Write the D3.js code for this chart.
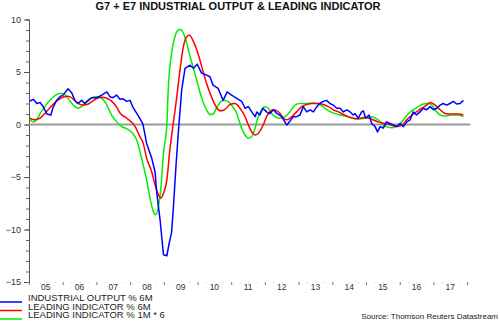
<!DOCTYPE html>
<html>
<head>
<meta charset="utf-8">
<script src="https://cdn.jsdelivr.net/npm/d3@7"></script>
<style>
  body { margin: 0; background: #fff; }
  svg { display: block; font-family: "Liberation Sans", Arial, sans-serif; }
</style>
</head>
<body>
<div id="chart"></div>
<script>
/**
 * G7 + E7 industrial output & leading indicator
 */
const width = 500;
const height = 321;

// x values are decimal years
const outputDates = [2005.03, 2005.13, 2005.23, 2005.33, 2005.42, 2005.53, 2005.65, 2005.71, 2005.82, 2005.92,
  2006.01, 2006.16, 2006.27, 2006.36, 2006.45, 2006.56, 2006.66, 2006.76, 2006.86, 2007.01,
  2007.16, 2007.31, 2007.40, 2007.49, 2007.60, 2007.70, 2007.79, 2007.90, 2008.00, 2008.09,
  2008.23, 2008.38, 2008.49, 2008.64, 2008.74, 2008.79, 2008.89, 2008.99, 2009.09, 2009.16,
  2009.23, 2009.28, 2009.36, 2009.43, 2009.53, 2009.63, 2009.78, 2009.88, 2009.99, 2010.12,
  2010.27, 2010.37, 2010.46, 2010.61, 2010.76, 2010.88, 2011.01, 2011.08, 2011.21, 2011.31,
  2011.41, 2011.51, 2011.61, 2011.71, 2011.76, 2011.85, 2011.94, 2012.05, 2012.15, 2012.25,
  2012.35, 2012.50, 2012.65, 2012.74, 2012.84, 2012.94, 2013.04, 2013.14, 2013.24, 2013.34,
  2013.44, 2013.54, 2013.63, 2013.73, 2013.83, 2013.93, 2014.03, 2014.13, 2014.23, 2014.33,
  2014.43, 2014.53, 2014.62, 2014.67, 2014.77, 2014.87, 2014.92, 2014.99, 2015.09, 2015.17,
  2015.27, 2015.34, 2015.42, 2015.51, 2015.61, 2015.71, 2015.81, 2015.91, 2016.01, 2016.11,
  2016.21, 2016.31, 2016.40, 2016.50, 2016.60, 2016.70, 2016.80, 2016.90, 2017.00, 2017.10,
  2017.20, 2017.29, 2017.39, 2017.49, 2017.59, 2017.69, 2017.79, 2017.89];
const outputValues = [2.24, 2.4, 2.0, 2.1, 1.7, 1.0, 0.9, 1.6, 2.3, 2.65,
  2.8, 3.4, 3.0, 2.3, 2.0, 2.3, 2.0, 2.3, 2.55, 2.55,
  2.8, 3.1, 2.65, 2.55, 2.8, 2.4, 2.45, 2.2, 2.3, 1.6,
  0.9, 0.05, -1.8, -3.2, -4.5, -6.5, -9.1, -12.4, -12.5, -11.3,
  -10.3, -8.1, -4.0, -0.8, 3.3, 5.35, 5.65, 5.35, 5.75, 4.9,
  4.7, 4.55, 3.75, 3.45, 2.3, 3.1, 2.8, 2.65, 2.4, 2.2,
  1.55, 1.7, 1.2, 0.75, 1.2, 0.9, 1.55, 1.2, 1.05, 1.4,
  1.05, 0.75, -0.05, 0.3, 0.75, 0.75, 0.9, 1.7, 1.2, 1.4,
  1.2, 1.7, 2.0, 2.2, 2.3, 2.0, 1.85, 1.55, 1.55, 1.2,
  1.4, 1.2, 0.9, 1.05, 0.6, 1.2, 1.3, 0.6, 0.9, 0.1,
  -0.2, -0.7, -0.2, -0.35, 0.25, 0.1, -0.05, -0.2, 0.1, -0.2,
  0.25, 0.45, 1.2, 0.9, 1.2, 1.55, 1.4, 1.7, 1.4, 1.55,
  1.85, 2.0, 1.85, 2.0, 2.2, 1.95, 2.0, 2.3];

const leading6Dates = [2005.03, 2005.18, 2005.33, 2005.47, 2005.62, 2005.77, 2005.92, 2006.04, 2006.16, 2006.28,
  2006.42, 2006.57, 2006.72, 2006.87, 2007.02, 2007.17, 2007.31, 2007.46, 2007.61, 2007.70,
  2007.90, 2008.15, 2008.29, 2008.39, 2008.49, 2008.64, 2008.74, 2008.84, 2008.91, 2008.99,
  2009.09, 2009.18, 2009.28, 2009.38, 2009.48, 2009.58, 2009.68, 2009.76, 2009.88, 2009.98,
  2010.07, 2010.17, 2010.27, 2010.37, 2010.47, 2010.57, 2010.67, 2010.77, 2010.87, 2010.96,
  2011.11, 2011.26, 2011.41, 2011.51, 2011.61, 2011.71, 2011.80, 2011.95, 2012.05, 2012.15,
  2012.25, 2012.35, 2012.45, 2012.55, 2012.65, 2012.80, 2012.94, 2013.09, 2013.24, 2013.39,
  2013.58, 2013.73, 2013.88, 2014.03, 2014.18, 2014.33, 2014.47, 2014.62, 2014.77, 2014.97,
  2015.17, 2015.36, 2015.56, 2015.76, 2015.91, 2016.06, 2016.21, 2016.36, 2016.50, 2016.65,
  2016.80, 2016.90, 2017.05, 2017.20, 2017.34, 2017.54, 2017.74, 2017.89];
const leading6Values = [0.6, 0.45, 0.6, 1.05, 1.6, 2.1, 2.45, 2.65, 2.7, 2.5,
  2.1, 1.85, 1.9, 2.2, 2.5, 2.6, 2.5, 2.2, 1.6, 1.1,
  0.6, -0.2, -1.15, -1.8, -3.2, -4.5, -5.75, -6.7, -7.0, -6.55,
  -5.3, -2.4, 0.1, 2.5, 5.2, 7.4, 8.35, 8.5, 7.9, 7.1,
  6.15, 5.0, 3.9, 3.0, 2.2, 1.6, 1.3, 1.35, 1.6, 1.9,
  2.0, 1.55, 0.75, -0.05, -0.7, -1.0, -0.85, -0.05, 0.75, 1.2,
  1.4, 1.3, 1.05, 0.6, 0.45, 0.75, 1.2, 1.7, 1.9, 2.0,
  2.0, 1.9, 1.7, 1.4, 1.2, 0.95, 0.75, 0.6, 0.55, 0.7,
  0.5, 0.25, 0.1, -0.05, -0.2, -0.05, 0.45, 0.9, 1.2, 1.55,
  1.85, 2.1, 1.85, 1.4, 1.05, 1.0, 1.0, 0.9];

const leading1Dates = [2005.03, 2005.13, 2005.23, 2005.33, 2005.47, 2005.62, 2005.77, 2005.92, 2006.01, 2006.13,
  2006.25, 2006.36, 2006.46, 2006.56, 2006.71, 2006.86, 2007.01, 2007.16, 2007.31, 2007.45,
  2007.60, 2007.75, 2007.90, 2008.09, 2008.20, 2008.34, 2008.49, 2008.59, 2008.69, 2008.76,
  2008.84, 2008.91, 2008.99, 2009.09, 2009.13, 2009.23, 2009.33, 2009.43, 2009.50, 2009.58,
  2009.68, 2009.78, 2009.88, 2009.98, 2010.07, 2010.17, 2010.27, 2010.37, 2010.47, 2010.57,
  2010.67, 2010.77, 2010.87, 2010.96, 2011.06, 2011.16, 2011.21, 2011.31, 2011.41, 2011.51,
  2011.61, 2011.71, 2011.80, 2011.90, 2012.00, 2012.10, 2012.20, 2012.30, 2012.45, 2012.60,
  2012.74, 2012.89, 2013.04, 2013.24, 2013.44, 2013.63, 2013.78, 2013.98, 2014.18, 2014.38,
  2014.62, 2014.77, 2014.97, 2015.17, 2015.36, 2015.56, 2015.76, 2015.96, 2016.11, 2016.26,
  2016.40, 2016.55, 2016.70, 2016.85, 2016.95, 2017.05, 2017.20, 2017.34, 2017.54, 2017.74,
  2017.89];
const leading1Values = [0.45, 0.25, 0.45, 1.05, 1.7, 2.3, 2.75, 2.95, 2.95, 2.6,
  2.1, 1.7, 1.55, 1.7, 2.2, 2.55, 2.65, 2.5, 1.85, 0.9,
  0.25, -0.2, -0.4, -0.9, -1.5, -3.2, -5.3, -7.0, -8.3, -8.6,
  -7.8, -6.2, -2.75, 0.0, 3.2, 6.8, 8.35, 9.0, 9.05, 8.7,
  7.75, 6.45, 5.35, 4.2, 3.1, 2.1, 1.4, 0.95, 1.0, 1.6,
  2.1, 2.3, 2.25, 2.05, 1.6, 1.1, 0.6, -0.35, -1.0, -1.3,
  -1.15, -0.35, 0.75, 1.4, 1.7, 1.55, 1.05, 0.75, 0.6, 0.75,
  1.2, 1.85, 2.0, 2.0, 2.05, 1.9, 1.55, 1.15, 0.95, 0.8,
  0.6, 0.55, 0.6, 0.75, 0.45, -0.15, -0.3, -0.05, 0.45, 1.05,
  1.4, 1.7, 1.95, 2.0, 1.85, 1.4, 0.9, 0.8, 0.9, 0.9,
  0.75];

const yearLabels = ["05", "06", "07", "08", "09", "10", "11", "12", "13", "14", "15", "16", "17"];
const yMajorTicks = [10, 5, 0, -5, -10, -15];

const seriesNames = ["INDUSTRIAL OUTPUT % 6M", "LEADING INDICATOR % 6M", "LEADING INDICATOR % 1M * 6"];
const seriesColors = ["#0000ff", "#ff0000", "#00ee00"];

const svg = d3.select("#chart")
  .append("svg")
  .attr("width", width)
  .attr("height", height);

// scales
const xScale = d3.scaleLinear()
  .domain([2005, 2018.1])
  .range([29, 470.5]);

const yScale = d3.scaleLinear()
  .domain([-15, 10])
  .range([282, 19.5]);

// title
svg.append("text")
  .attr("x", 238)
  .attr("y", 10)
  .attr("text-anchor", "middle")
  .style("font-size", "11px")
  .style("font-weight", "bold")
  .style("fill", "#111")
  .text("G7 + E7 INDUSTRIAL OUTPUT & LEADING INDICATOR");

// y axis, minor ticks every 1
const yMinor = svg.append("g")
  .attr("transform", "translate(29,0)")
  .call(d3.axisLeft(yScale).tickValues(d3.range(-15, 11, 1)).tickSize(3).tickFormat(""));
yMinor.select(".domain").attr("stroke", "#555");
yMinor.selectAll(".tick line").attr("stroke", "#666");
yMinor.selectAll(".tick text").remove();

const yMajor = svg.append("g")
  .attr("transform", "translate(29,0)")
  .call(d3.axisLeft(yScale).tickValues(yMajorTicks).tickSize(5).tickPadding(3));
yMajor.select(".domain").remove();
yMajor.selectAll(".tick line").attr("stroke", "#555");
yMajor.selectAll(".tick text")
  .style("font-size", "9px")
  .style("font-family", "Liberation Sans, Arial, sans-serif")
  .attr("fill", "#333");

// x axis: ticks at year boundaries, labels mid-year
const xTicks = svg.append("g")
  .attr("transform", "translate(0,282)")
  .call(d3.axisBottom(xScale).tickValues(d3.range(2005, 2019)).tickSize(3).tickFormat(""));
xTicks.select(".domain").remove();
xTicks.selectAll(".tick line").attr("stroke", "#777");
xTicks.selectAll(".tick text").remove();

const xQuarter = svg.append("g")
  .attr("transform", "translate(0,282)")
  .call(d3.axisBottom(xScale)
    .tickValues(d3.range(2005, 2018, 0.25).filter(d => d % 1 !== 0))
    .tickSize(1).tickFormat(""));
xQuarter.select(".domain").remove();
xQuarter.selectAll(".tick line").attr("stroke", "#ccc");
xQuarter.selectAll(".tick text").remove();

svg.append("g")
  .selectAll("text")
  .data(yearLabels)
  .join("text")
  .attr("x", (d, i) => xScale(2005.5 + i))
  .attr("y", 290)
  .attr("text-anchor", "middle")
  .style("font-size", "8.5px")
  .style("fill", "#333")
  .text(d => d);

// zero line
svg.append("line")
  .attr("x1", xScale(2005))
  .attr("x2", xScale(2018.1))
  .attr("y1", yScale(0))
  .attr("y2", yScale(0))
  .attr("stroke", "#999")
  .attr("stroke-width", 2);

// lines
function drawLine(dates, values, color, curve) {
  const pts = dates.map((d, i) => [d, values[i]]);
  svg.append("path")
    .datum(pts)
    .attr("fill", "none")
    .attr("stroke", color)
    .attr("stroke-width", 1.5)
    .attr("stroke-linejoin", "round")
    .attr("d", d3.line()
      .x(d => xScale(d[0]))
      .y(d => yScale(d[1]))
      .curve(curve));
}

drawLine(leading1Dates, leading1Values, seriesColors[2], d3.curveMonotoneX);
drawLine(leading6Dates, leading6Values, seriesColors[1], d3.curveMonotoneX);
drawLine(outputDates, outputValues, seriesColors[0], d3.curveLinear);

// legend (rows sit tight, as in the original)
const legendY = [301, 309.5, 318];
const legend = svg.append("g");
seriesNames.forEach((name, i) => {
  legend.append("line")
    .attr("x1", 0)
    .attr("x2", 22)
    .attr("y1", legendY[i] + 1)
    .attr("y2", legendY[i] + 1)
    .attr("stroke", seriesColors[i])
    .attr("stroke-width", 1.5);
  legend.append("text")
    .attr("x", 28)
    .attr("y", legendY[i])
    .style("font-size", "9.5px")
    .style("fill", "#222")
    .text(name);
});

// source
svg.append("text")
  .attr("x", 498)
  .attr("y", 319)
  .attr("text-anchor", "end")
  .style("font-size", "8px")
  .style("fill", "#222")
  .text("Source: Thomson Reuters Datastream");
</script>
</body>
</html>
